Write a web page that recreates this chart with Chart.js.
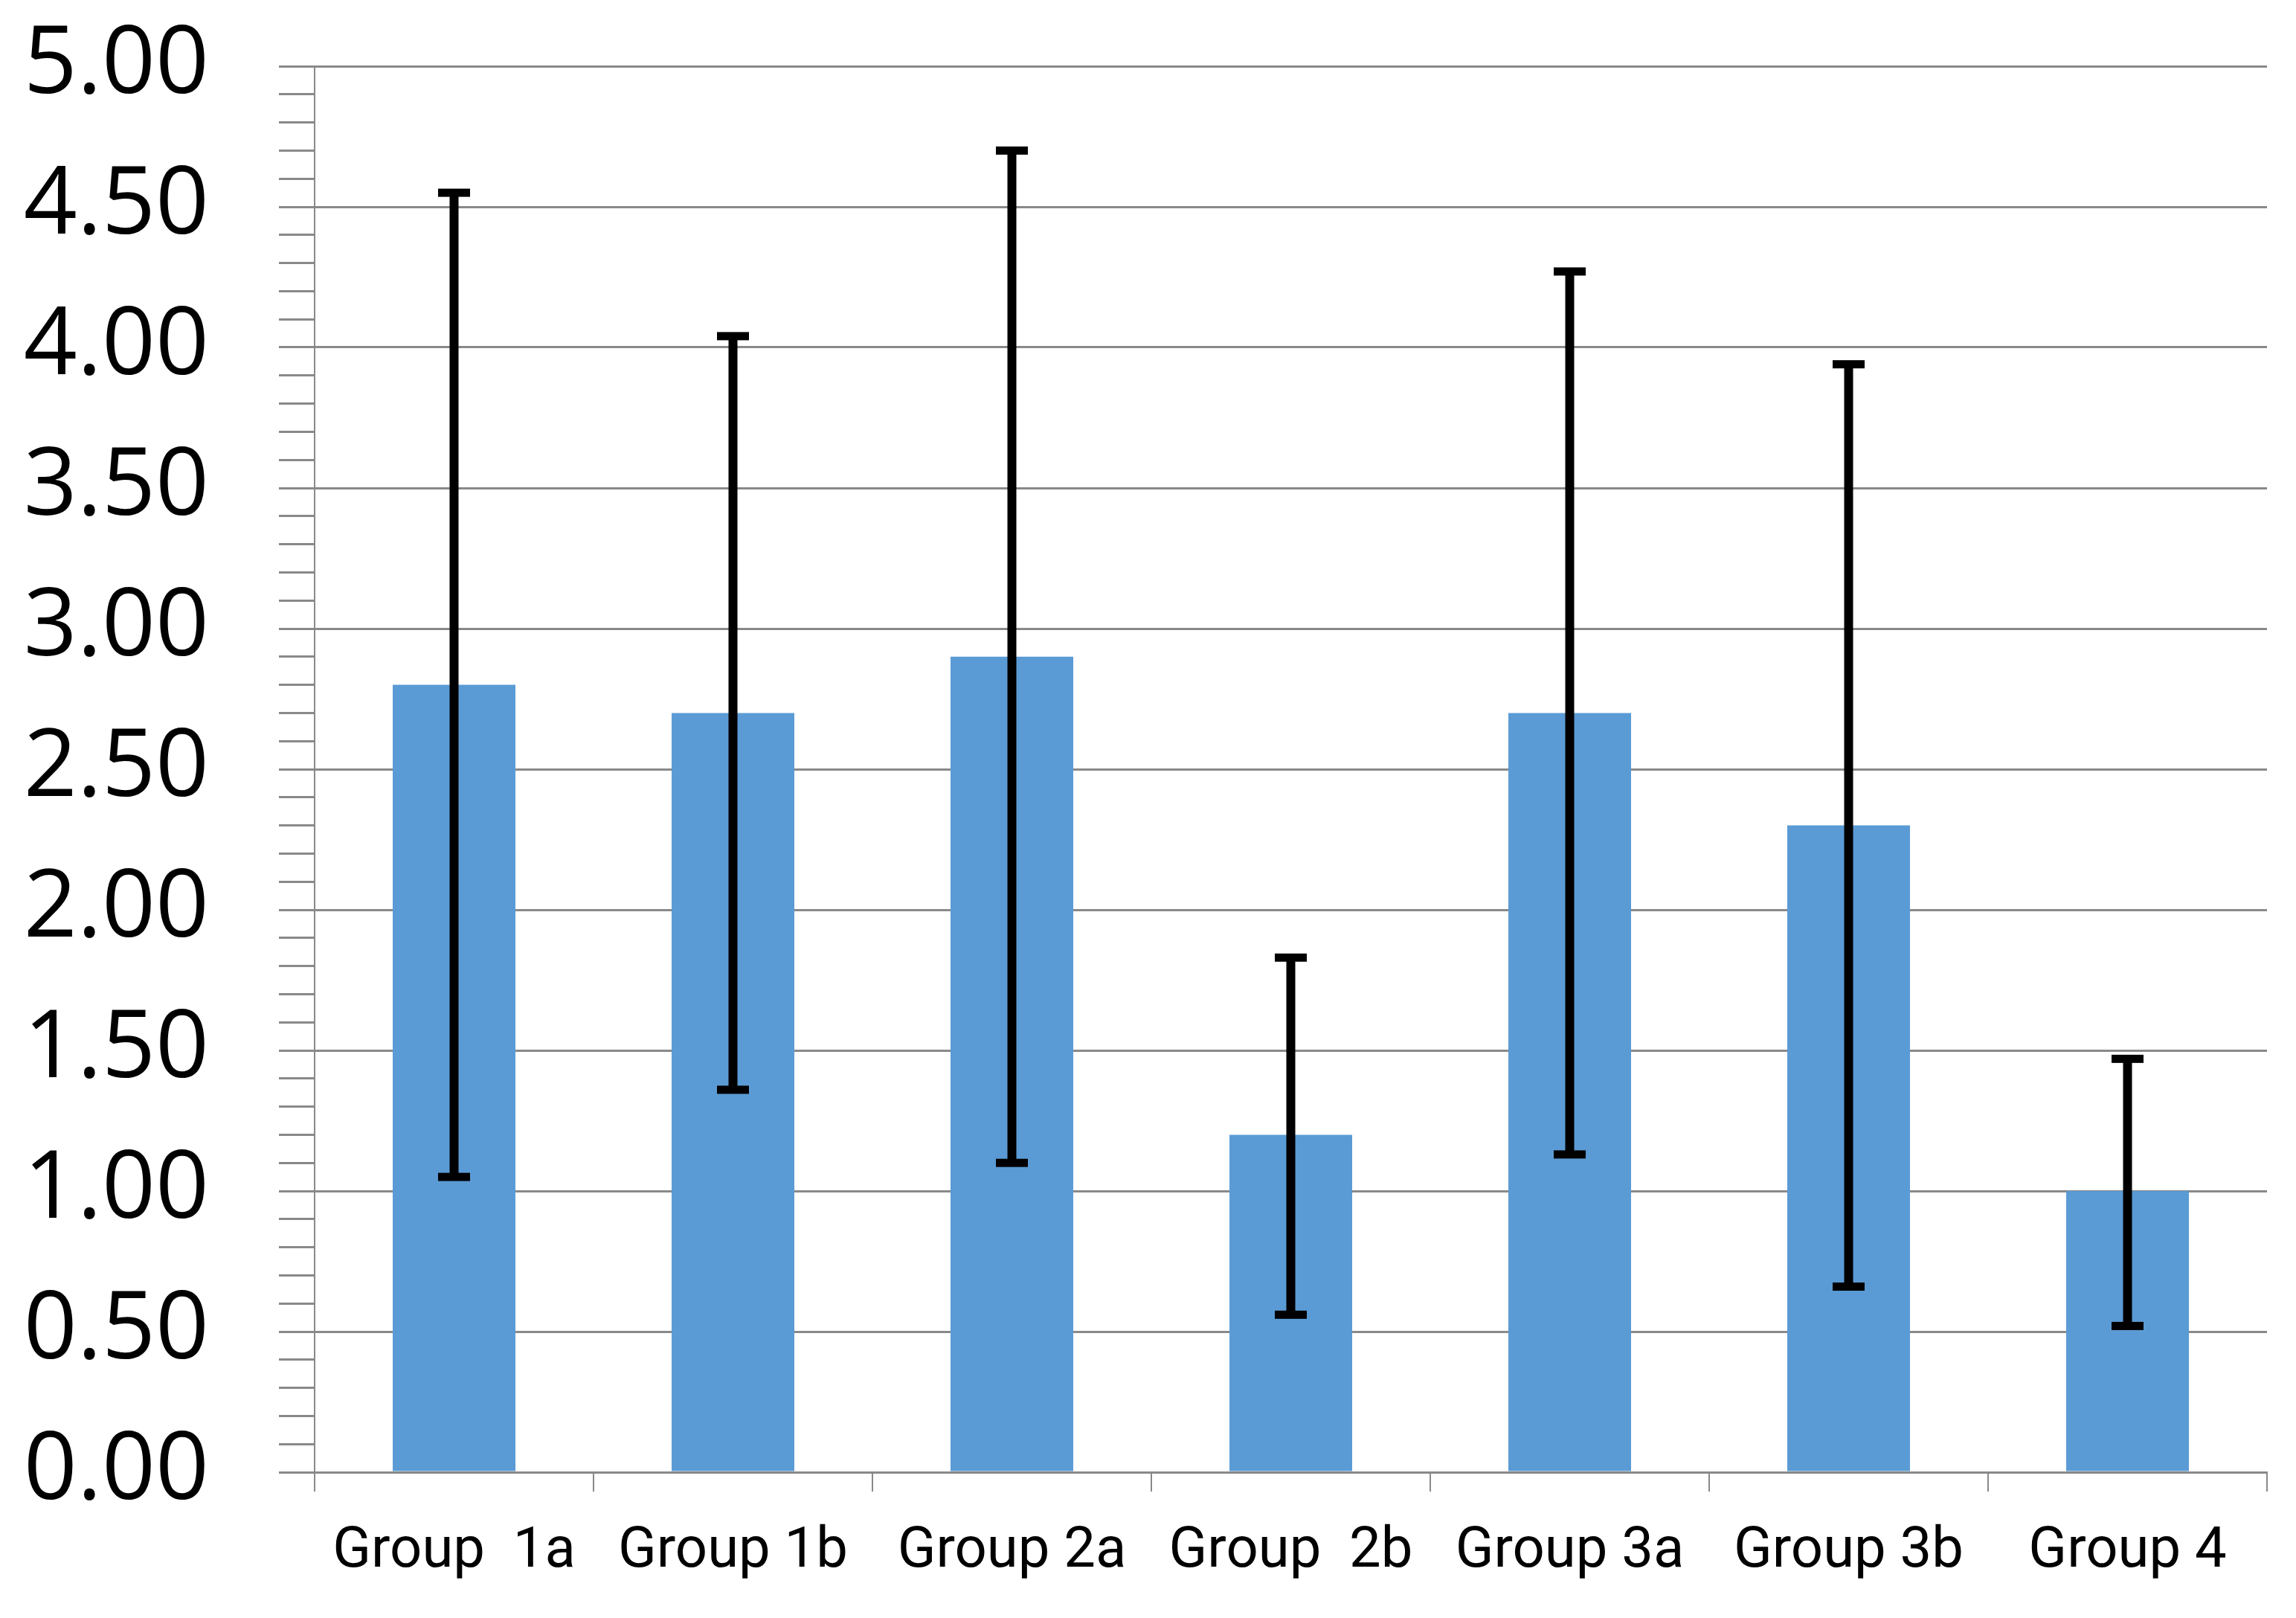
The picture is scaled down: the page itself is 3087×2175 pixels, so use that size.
<!DOCTYPE html>
<html>
<head>
<meta charset="utf-8">
<script src="https://cdn.jsdelivr.net/npm/chart.js@4.4.1/dist/chart.umd.min.js"></script>
<style>
  html, body { margin: 0; padding: 0; background: #ffffff; }
  #chart { display: block; }
</style>
</head>
<body>
<canvas id="chart" width="3087" height="2175"></canvas>
<script>
// Données
const categories = ['Group  1a', 'Group 1b', 'Group 2a', 'Group  2b', 'Group 3a', 'Group 3b', 'Group 4'];
const means = [2.80, 2.70, 2.90, 1.20, 2.70, 2.30, 1.00];
const errorHigh = [4.55, 4.04, 4.70, 1.83, 4.27, 3.94, 1.47];
const errorLow = [1.05, 1.36, 1.10, 0.56, 1.13, 0.66, 0.52];

const yMin = 0;
const yMax = 5;
const yMinorStep = 0.1;
const yMajorStep = 0.5;

const GRID_GRAY = '#898989';
const BAR_BLUE = '#5B9BD5';

function isMajor(value) {
  const r = value / yMajorStep;
  return Math.abs(r - Math.round(r)) < 1e-6;
}

// Barres d'erreur dessinées via les échelles de Chart.js
const errorBarPlugin = {
  id: 'errorBars',
  afterDatasetsDraw(chart) {
    const ctx = chart.ctx;
    const meta = chart.getDatasetMeta(0);
    const yScale = chart.scales.y;
    const capWidth = 43;
    const capHeight = 11;

    ctx.save();
    ctx.strokeStyle = '#000000';
    ctx.fillStyle = '#000000';
    ctx.lineWidth = 12;
    meta.data.forEach((bar, i) => {
      const x = bar.x;
      const yTop = yScale.getPixelForValue(errorHigh[i]);
      const yBottom = yScale.getPixelForValue(errorLow[i]);
      ctx.beginPath();
      ctx.moveTo(x, yTop);
      ctx.lineTo(x, yBottom);
      ctx.stroke();
      ctx.fillRect(x - capWidth / 2, yTop - capHeight / 2, capWidth, capHeight);
      ctx.fillRect(x - capWidth / 2, yBottom - capHeight / 2, capWidth, capHeight);
    });
    ctx.restore();
  }
};

const canvas = document.getElementById('chart');

new Chart(canvas, {
  type: 'bar',
  data: {
    labels: categories,
    datasets: [{
      data: means,
      backgroundColor: BAR_BLUE,
      borderWidth: 0,
      categoryPercentage: 1.0,
      barPercentage: 0.44
    }]
  },
  options: {
    responsive: false,
    animation: false,
    devicePixelRatio: 1,
    layout: {
      padding: { left: 0, right: 39, top: 89, bottom: 0 }
    },
    plugins: {
      legend: { display: false },
      tooltip: { enabled: false }
    },
    scales: {
      x: {
        afterFit: (scale) => { scale.height = 196; },
        grid: {
          offset: true,
          drawOnChartArea: false,
          drawTicks: true,
          tickLength: 26,
          color: GRID_GRAY,
          lineWidth: 2
        },
        border: {
          display: true,
          color: GRID_GRAY,
          width: 3
        },
        ticks: {
          color: '#000000',
          padding: 36,
          maxRotation: 0,
          autoSkip: false,
          font: {
            family: 'Roboto, "Open Sans", sans-serif',
            size: 76
          }
        }
      },
      y: {
        min: yMin,
        max: yMax,
        afterFit: (scale) => {
          // largeur fixe et pas de marge ajoutée pour les libellés
          scale.width = 423;
          scale.paddingTop = 0;
          scale.paddingBottom = 0;
        },
        grid: {
          drawTicks: true,
          tickLength: 48,
          color: (ctx) => (ctx.tick && isMajor(ctx.tick.value)) ? GRID_GRAY : 'rgba(0,0,0,0)',
          tickColor: GRID_GRAY,
          lineWidth: 3
        },
        border: {
          display: true,
          color: GRID_GRAY,
          width: 2
        },
        ticks: {
          stepSize: yMinorStep,
          autoSkip: false,
          padding: 94,
          color: '#000000',
          font: {
            family: '"Open Sans", sans-serif',
            size: 126
          },
          callback: (value) => isMajor(value) ? Number(value).toFixed(2) : ''
        }
      }
    }
  },
  plugins: [errorBarPlugin]
});
</script>
</body>
</html>
